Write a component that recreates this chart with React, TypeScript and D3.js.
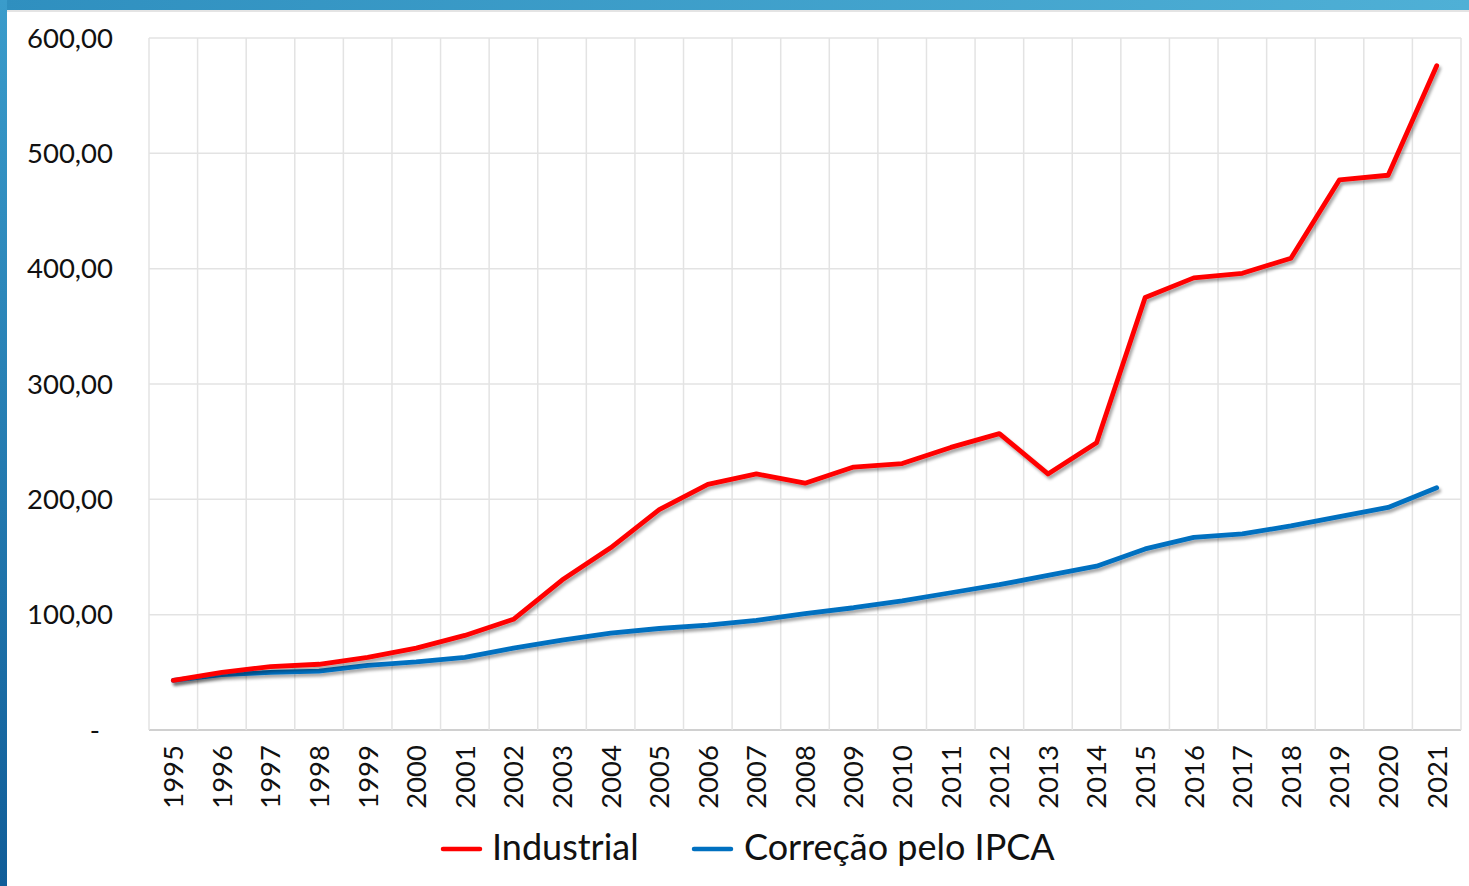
import React from "react";
import { scaleBand, scaleLinear, line } from "d3";

const years = ["1995","1996","1997","1998","1999","2000","2001","2002","2003","2004","2005","2006","2007","2008","2009","2010","2011","2012","2013","2014","2015","2016","2017","2018","2019","2020","2021"];
const industrial = [43, 50, 55, 57, 63, 71, 82, 96, 130, 158, 191, 213, 222, 214, 228, 231, 245, 257, 222, 249, 375, 392, 396, 409, 477, 481, 576];
const ipca = [43, 48, 50, 51, 56, 59, 63, 71, 78, 84, 88, 91, 95, 101, 106, 112, 119, 126, 134, 142, 157, 167, 170, 177, 185, 193, 210];
const yTicks = [0, 100, 200, 300, 400, 500, 600];
const seriesNames = ["Industrial", "Correção pelo IPCA"];

const W = 1469, H = 886;
const left = 149, right = 1461, top = 38, bottom = 730;
const font = "Lato, 'Open Sans', sans-serif";

const fmt = (v: number) => v === 0 ? "-" : v.toFixed(2).replace(".", ",");

export default function App() {
  const x = scaleBand<string>().domain(years).range([left, right]);
  const y = scaleLinear().domain([0, 600]).range([bottom, top]);
  const cx = (yr: string) => (x(yr) as number) + x.bandwidth() / 2;

  const mk = line<number>().x((_, i) => cx(years[i])).y(d => y(d));

  return (
    <svg width={W} height={H} style={{ position: "absolute", left: 0, top: 0, background: "#fff" }}>
      <defs>
        <linearGradient id="topg" x1="0" x2="1" y1="0" y2="0">
          <stop offset="0" stopColor="#2f8fbf" />
          <stop offset="1" stopColor="#4fb0d6" />
        </linearGradient>
        <linearGradient id="leftg" x1="0" x2="0" y1="0" y2="1">
          <stop offset="0" stopColor="#3a9ccb" />
          <stop offset="1" stopColor="#105d98" />
        </linearGradient>
        <filter id="shadow" x="-5%" y="-5%" width="110%" height="120%">
          <feDropShadow dx="2" dy="3" stdDeviation="1.8" floodColor="#000" floodOpacity="0.35" />
        </filter>
      </defs>

      <rect x={0} y={0} width={W} height={H} fill="#fff" />
      <rect x={0} y={0} width={W} height={10} fill="url(#topg)" />
      <rect x={7} y={10} width={W} height={2} fill="#e4e4e4" />
      <rect x={0} y={0} width={7} height={H} fill="url(#leftg)" />

      {/* grid */}
      {yTicks.map(t => (
        <line key={"h" + t} x1={left} x2={right} y1={y(t)} y2={y(t)} stroke={t === 0 ? "#d0d0d0" : "#e3e3e3"} strokeWidth={t === 0 ? 2 : 1.5} />
      ))}
      {years.map(yr => (
        <line key={"v" + yr} x1={x(yr) as number} x2={x(yr) as number} y1={top} y2={bottom} stroke="#e3e3e3" strokeWidth={1.5} />
      ))}
      <line x1={right} x2={right} y1={top} y2={bottom} stroke="#e3e3e3" strokeWidth={1.5} />

      {/* y labels */}
      {yTicks.map(t => (
        <text key={"yl" + t} x={t === 0 ? 100 : 113} y={y(t)} dy="0.35em" textAnchor="end" fontFamily={font} fontSize={27.5} fill="#111">{fmt(t)}</text>
      ))}

      {/* x labels */}
      {years.map(yr => (
        <text key={"xl" + yr} transform={`translate(${cx(yr)},745) rotate(-90)`} dy="0.36em" textAnchor="end" fontFamily={font} fontSize={27.5} fill="#111">{yr}</text>
      ))}

      {/* lines */}
      <path d={mk(ipca) as string} fill="none" stroke="#0070c0" strokeWidth={4.8} strokeLinejoin="round" strokeLinecap="round" filter="url(#shadow)" />
      <path d={mk(industrial) as string} fill="none" stroke="#ff0000" strokeWidth={4.8} strokeLinejoin="round" strokeLinecap="round" filter="url(#shadow)" />

      {/* legend */}
      <line x1={443} x2={480} y1={849} y2={849} stroke="#ff0000" strokeWidth={4.5} strokeLinecap="round" />
      <text x={492} y={860} fontFamily={font} fontSize={36} fill="#111">{seriesNames[0]}</text>
      <line x1={694} x2={731} y1={849} y2={849} stroke="#0070c0" strokeWidth={4.5} strokeLinecap="round" />
      <text x={744} y={860} fontFamily={font} fontSize={36} fill="#111">{seriesNames[1]}</text>
    </svg>
  );
}
